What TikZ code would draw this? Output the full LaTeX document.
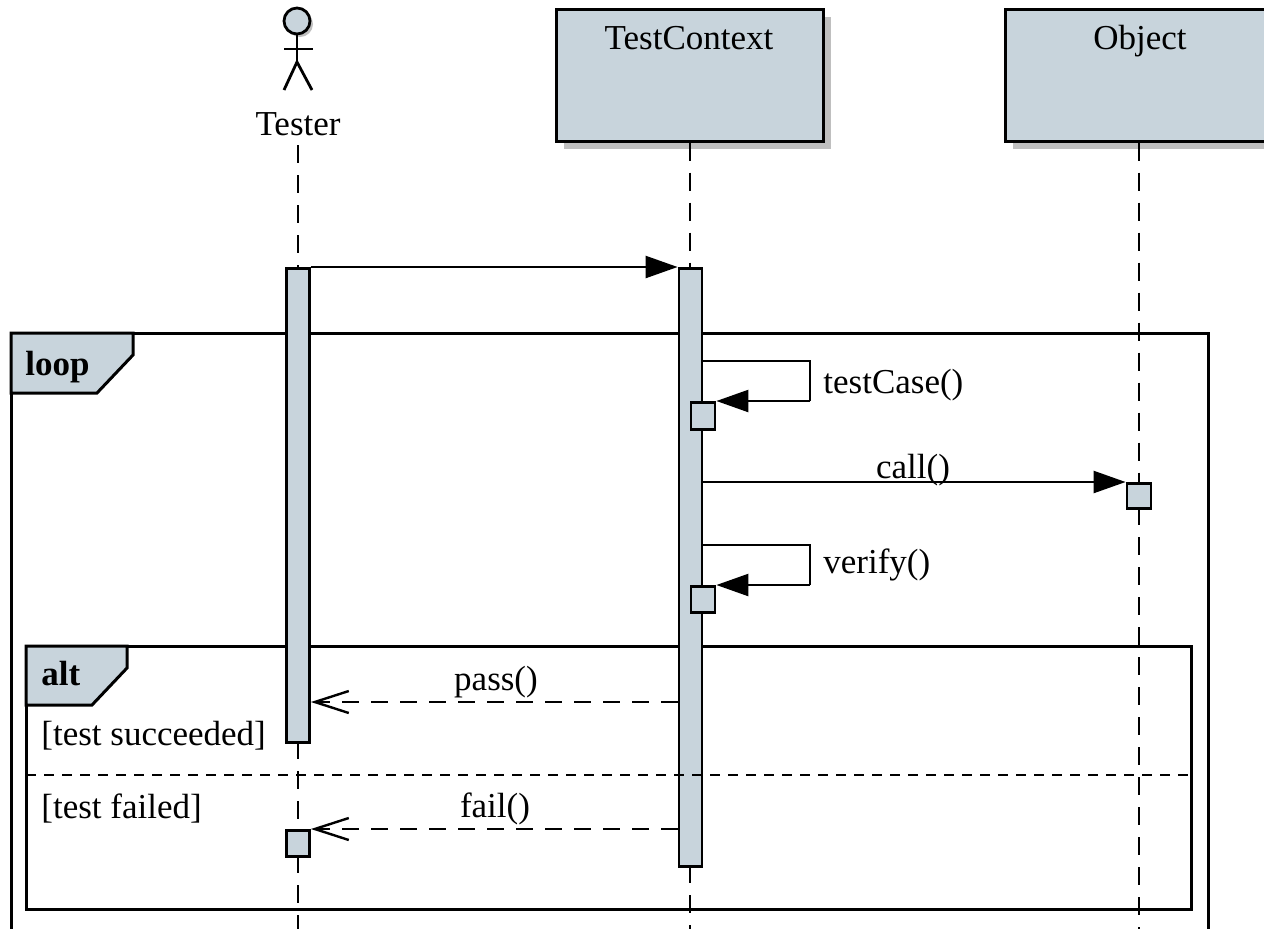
\documentclass[tikz,border=0pt]{standalone}
\usepackage{fontspec}
\setmainfont{Liberation Serif}
\usetikzlibrary{arrows.meta,shadows,calc}
\definecolor{boxfill}{HTML}{C8D4DC}
\definecolor{shadowgray}{HTML}{BFBFBF}
\tikzset{
  x=0.5pt, y=-0.5pt,
  txt/.style={font=\fontsize{17.5}{20}\selectfont, inner sep=0pt, anchor=base},
  txtl/.style={txt, anchor=base west},
  bold/.style={font=\fontsize{17.5}{20}\selectfont\bfseries, inner sep=0pt, anchor=base west},
  headbox/.style={draw=black, line width=1.5pt, fill=boxfill, minimum width=133.5pt, minimum height=66pt, inner sep=0pt,
    drop shadow={shadow xshift=4pt, shadow yshift=-4pt, fill=shadowgray, opacity=1}},
  actbar/.style={draw=black, line width=1.4pt, fill=boxfill, minimum width=11.5pt, inner sep=0pt, anchor=north},
  lifeline/.style={line width=1.4pt, dash pattern=on 9pt off 6pt},
  msg/.style={line width=1.2pt, -{Triangle[length=16pt,width=11pt]}},
  reply/.style={line width=1.2pt, dash pattern=on 8.5pt off 6pt, -{Straight Barb[length=17pt,width=11pt,line width=1.2pt]}},
  frame/.style={draw=black, line width=1.5pt},
  sep/.style={line width=1.2pt, dash pattern=on 5pt off 4pt},
  stick/.style={line width=1.4pt},
}
\begin{document}
\begin{tikzpicture}
\useasboundingbox (0,0) rectangle (1264,928);
\clip (0,0) rectangle (1264,928);
\fill[white] (0,0) rectangle (1264,928);

% ---- actor Tester ----
\fill[shadowgray] (300,24) circle (6.5pt);
\node[circle, draw=black, line width=1.4pt, fill=boxfill, minimum size=13pt, inner sep=0pt] (thead) at (297,21) {};
\draw[stick] (thead.south) -- (297,62) coordinate (thip);
\draw[stick] (284,49) coordinate (tarml) -- (313,49) coordinate (tarmr);
\draw[stick] (284,90) coordinate (tlegl) -- (thip) -- (312,90) coordinate (tlegr);
\node[txt] (testerlbl) at (298,135) {Tester};
\coordinate (testerfoot) at (298,145);

% ---- head boxes ----
\node[headbox] (tc) at (689.5,75) {};
\node[txt] (tctxt) at (689,49) {TestContext};
\node[headbox] (obj) at (1138.5,75) {};
\node[txt] (objtxt) at (1140,49) {Object};

% ---- loop frame ----
\draw[frame] (11,333) rectangle (1208,960);
\draw[frame, fill=boxfill] (11,333) -- (133,333) -- (133,355) -- (97,393) -- (11,393) -- cycle;
\node[bold] (looplbl) at (25,375) {loop};

% ---- alt frame ----
\draw[frame] (26,646) rectangle (1191,909);
\draw[frame, fill=boxfill] (26,646) -- (127,646) -- (127,668) -- (92,705) -- (26,705) -- cycle;
\node[bold] (altlbl) at (41,685) {alt};
\node[txtl] (g1) at (41,745) {[test succeeded]};
\node[txtl] (g2) at (41,818) {[test failed]};

% ---- lifelines ----
\draw[lifeline] (testerfoot) -- (298,267);
\draw[lifeline] (298,741) -- (298,829);
\draw[lifeline] (298,855) -- (298,940);
\draw[lifeline] (tc.south -| 690,0) -- (690,267);
\draw[lifeline] (690,865) -- (690,940);
\draw[lifeline] (obj.south -| 1139,0) -- (1139,482);
\draw[lifeline] (1139,507) -- (1139,940);

% ---- activation bars ----
\node[actbar, minimum height=237pt] (tbar) at (298,267) {};
\node[actbar, minimum height=299pt] (tcbar) at (690.5,267) {};
\node[actbar, minimum height=13.5pt, minimum width=12pt] (tc1) at (703,401) {};
\node[actbar, minimum height=13pt, minimum width=12pt] (tc2) at (703,585) {};
\node[actbar, minimum height=12.5pt, minimum width=12pt] (ob1) at (1139,482) {};
\node[actbar, minimum height=13pt] (tb2) at (298,829) {};

% ---- separator ----
\draw[sep] (26,775) -- (1191,775);

% ---- messages ----
\draw[msg] (tbar.north east) -- (tcbar.north west);
\coordinate (tcs1) at (tcbar.east |- 0,361);
\draw[line width=1.2pt] (tcs1) -- (810,361) -- (810,401) coordinate (tcs1b);
\draw[msg] (tcs1b) -- (tc1.north east);
\node[txtl] (l1) at (823,393) {testCase()};

\draw[msg] (tcbar.east |- ob1.north) -- (ob1.north west);
\node[txt] (l2) at (913,478) {call()};

\coordinate (tcs2) at (tcbar.east |- 0,545);
\draw[line width=1.2pt] (tcs2) -- (810,545) -- (810,585) coordinate (tcs2b);
\draw[msg] (tcs2b) -- (tc2.north east);
\node[txtl] (l3) at (823,573) {verify()};

\draw[reply] (tcbar.west |- 0,702) -- (tbar.east |- 0,702);
\node[txt] (l4) at (496,690) {pass()};
\draw[reply] (tcbar.west |- tb2.north) -- (tb2.north east);
\node[txt] (l5) at (495,817) {fail()};
\end{tikzpicture}
\end{document}
